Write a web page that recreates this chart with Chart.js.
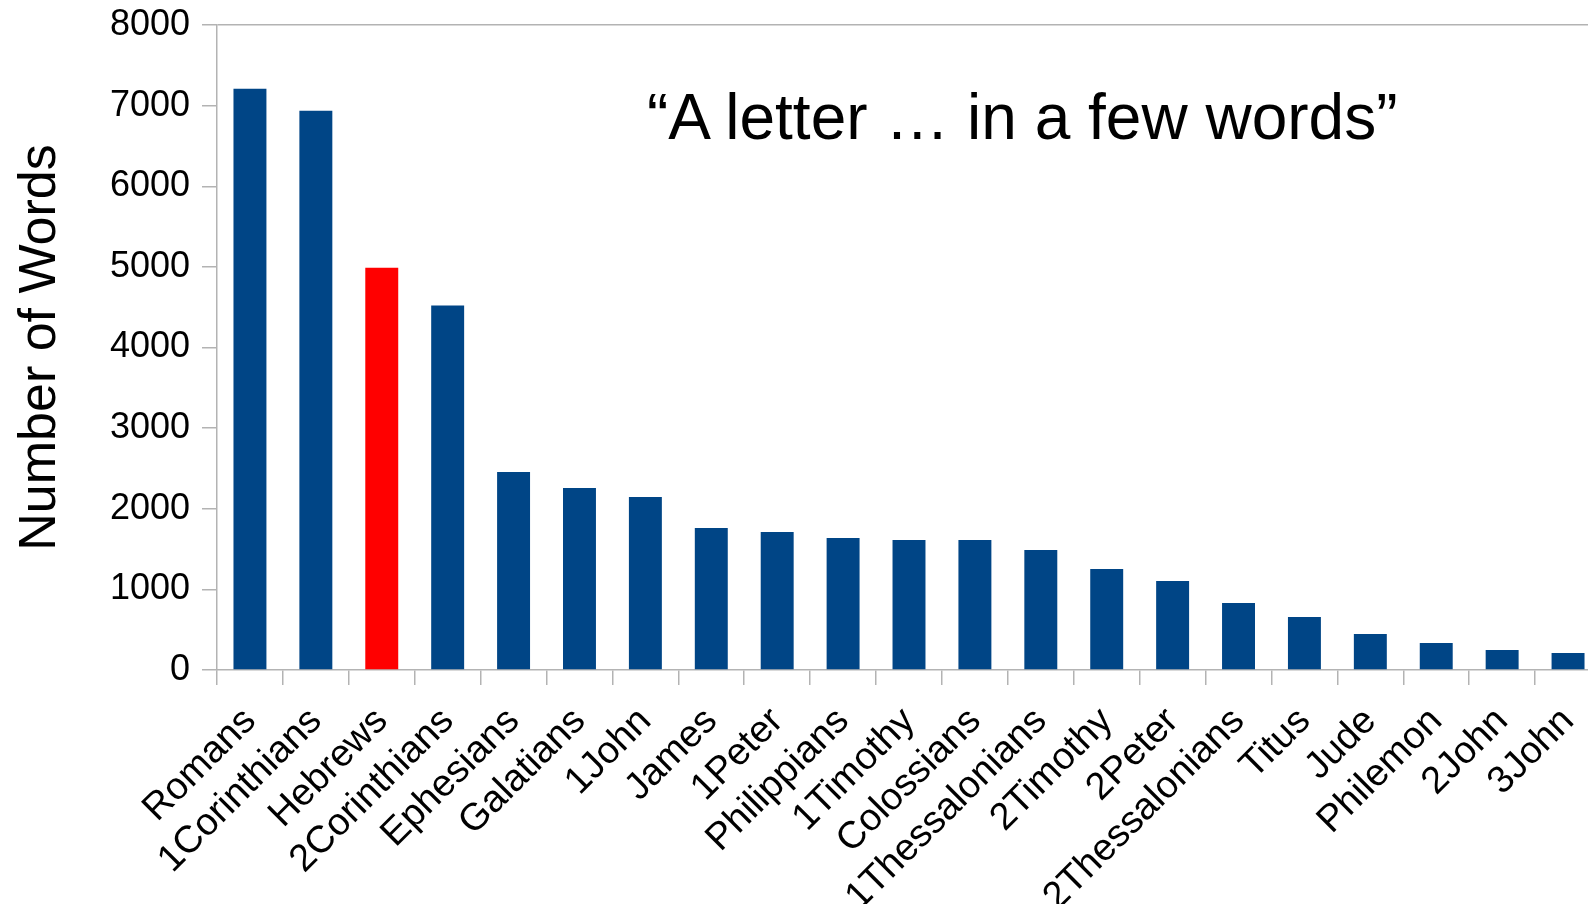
<!DOCTYPE html>
<html>
<head>
<meta charset="utf-8">
<script src="https://cdn.jsdelivr.net/npm/chart.js@4.4.1/dist/chart.umd.min.js"></script>
<style>
    html, body { margin: 0; padding: 0; background: #fff; overflow: hidden; }
    #wrap { position: relative; width: 1602px; height: 904px; }
    #note {
        position: absolute;
        left: 647px;
        top: 85px;
        font-family: 'Liberation Sans', Arial, sans-serif;
        font-size: 64px;
        line-height: 1;
        color: #000;
        white-space: nowrap;
    }
</style>
</head>
<body>
<div id="wrap">
    <canvas id="wordsChart"></canvas>
    <div id="note">“A letter … in a few words”</div>
</div>
<script>
const books = ['Romans', '1Corinthians', 'Hebrews', '2Corinthians', 'Ephesians', 'Galatians', '1John',
    'James', '1Peter', 'Philippians', '1Timothy', 'Colossians', '1Thessalonians', '2Timothy',
    '2Peter', '2Thessalonians', 'Titus', 'Jude', 'Philemon', '2John', '3John'];
const wordCounts = [7210, 6935, 4990, 4520, 2456, 2257, 2146, 1761, 1712, 1637, 1612, 1612, 1488, 1253,
    1104, 831, 658, 447, 335, 248, 211];
const highlighted = ['Hebrews'];
const yTicks = [0, 1000, 2000, 3000, 4000, 5000, 6000, 7000, 8000];

const libreBlue = '#004586';
const libreRed = '#ff0000';
const axisGray = '#b3b3b3';
const font = "'Liberation Sans', Arial, sans-serif";

document.addEventListener('DOMContentLoaded', () => {
    const ctx = document.getElementById('wordsChart').getContext('2d');

    new Chart(ctx, {
        type: 'bar',
        data: {
            labels: books,
            datasets: [{
                data: wordCounts,
                backgroundColor: books.map(b => highlighted.includes(b) ? libreRed : libreBlue),
                borderWidth: 0,
                barPercentage: 0.5,
                categoryPercentage: 1.0
            }]
        },
        options: {
            responsive: true,
            maintainAspectRatio: false,
            animation: false,
            layout: { padding: { top: 25, right: 1, bottom: 0, left: 0 } },
            plugins: {
                legend: { display: false },
                tooltip: { enabled: false }
            },
            scales: {
                x: {
                    grid: {
                        drawOnChartArea: false,
                        drawTicks: true,
                        tickLength: 15,
                        color: axisGray,
                        lineWidth: 1.5
                    },
                    border: { color: axisGray, width: 1.5 },
                    ticks: {
                        color: '#000',
                        font: { family: font, size: 38 },
                        minRotation: 45,
                        maxRotation: 45,
                        autoSkip: false,
                        padding: 14
                    },
                    afterFit: scale => {
                        scale.height = 234;
                        scale.paddingLeft = 0;
                        scale.paddingRight = 0;
                    }
                },
                y: {
                    min: 0,
                    max: 8000,
                    afterBuildTicks: scale => { scale.ticks = yTicks.map(v => ({ value: v })); },
                    grid: {
                        color: c => (c.tick && c.tick.value === 8000) ? axisGray : 'rgba(0,0,0,0)',
                        tickColor: axisGray,
                        tickLength: 15,
                        lineWidth: 1.5
                    },
                    border: { color: axisGray, width: 1.5 },
                    ticks: {
                        color: '#000',
                        font: { family: font, size: 36 },
                        padding: 12,
                        callback: value => String(value)
                    },
                    title: {
                        display: true,
                        text: 'Number of Words',
                        color: '#000',
                        font: { family: font, size: 52 },
                        padding: { top: 9, bottom: 0 }
                    },
                    afterFit: scale => {
                        scale.width = 217;
                        scale.paddingTop = 0;
                        scale.paddingBottom = 0;
                    }
                }
            }
        }
    });
});
</script>
</body>
</html>
